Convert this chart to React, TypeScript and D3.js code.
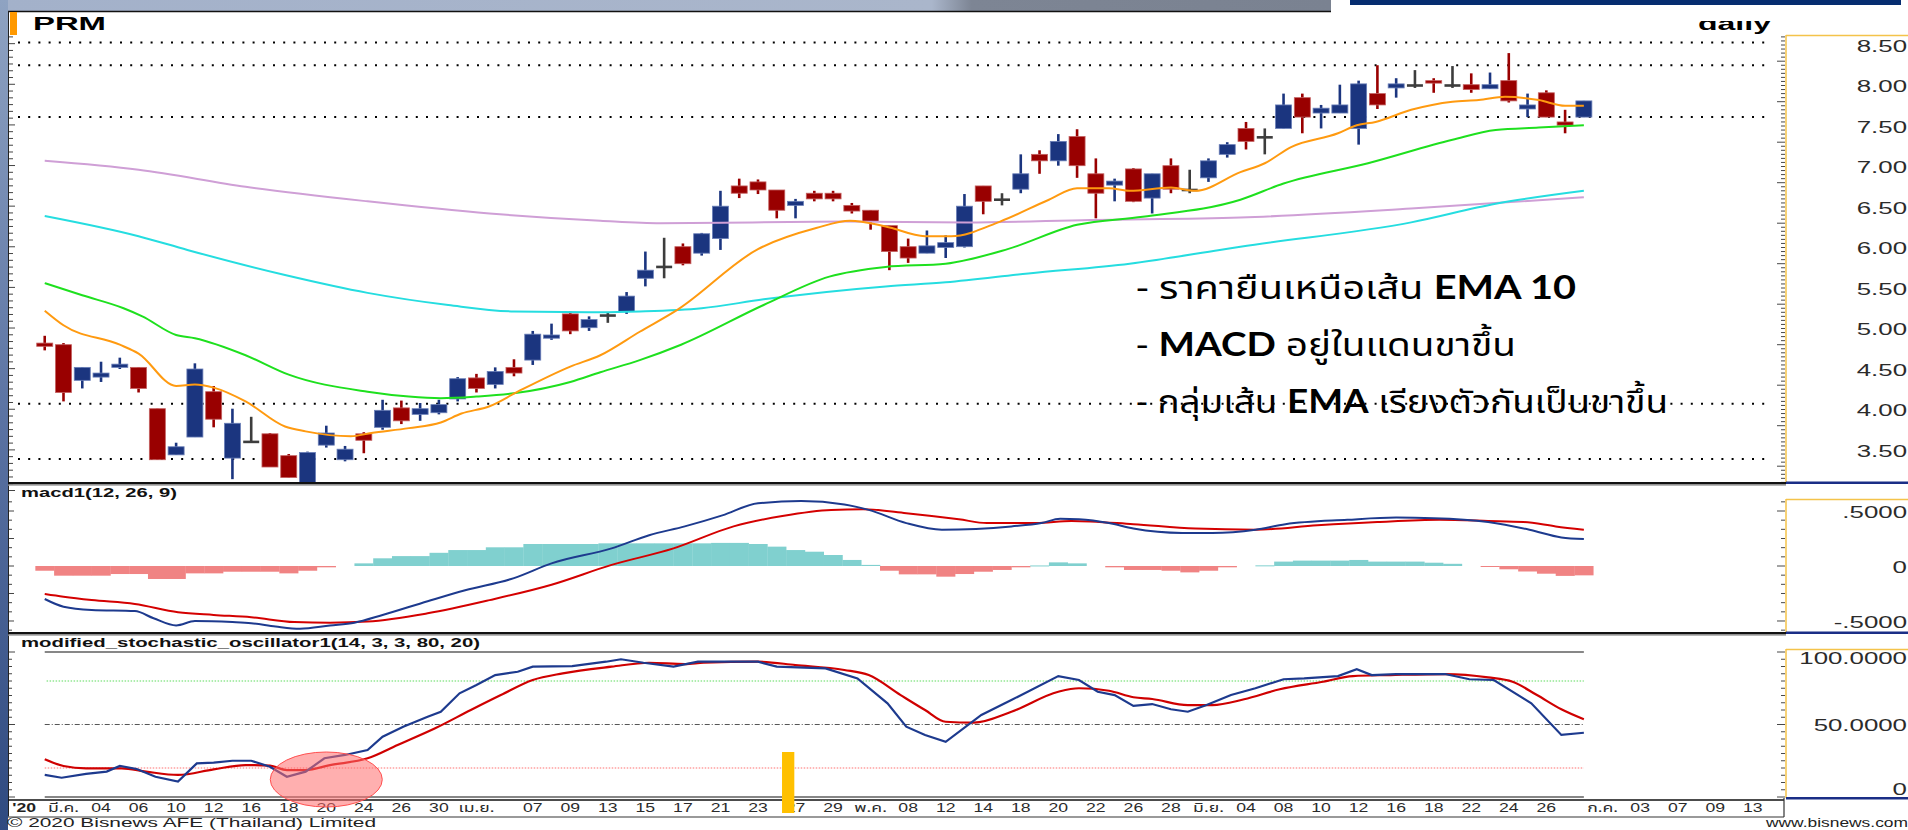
import React from "react";
import * as d3 from "d3";

// ---------- DATA ----------
const firstIdx = -1; // candles start one session before 2 Mar 2020
const opens = [4.82,4.80,4.36,4.40,4.52,4.52,4.01,3.44,3.66,4.22,
  3.40,3.60,3.70,3.43,2.95,3.56,3.38,3.70,3.78,4.02,
  3.94,3.96,4.13,4.39,4.31,4.52,4.61,4.88,5.18,5.01,
  5.16,5.21,5.62,5.76,6.01,5.93,6.11,6.76,6.81,6.71,
  6.52,6.67,6.67,6.52,6.46,6.27,6.01,5.93,6.00,6.01,
  6.76,6.59,6.72,7.15,7.07,7.37,6.91,6.77,6.97,6.61,
  7.01,6.71,6.86,7.15,7.47,7.36,7.47,7.85,7.66,7.66,
  7.47,7.90,7.97,8.00,8.06,8.00,8.01,7.96,8.06,7.71,
  7.91,7.55,7.61];
const highs = [4.91,4.82,4.52,4.59,4.64,4.52,4.01,3.59,4.57,4.29,
  4.01,3.91,3.71,3.45,3.48,3.80,3.55,3.72,4.12,4.11,
  4.08,4.12,4.40,4.44,4.52,4.62,4.97,5.06,5.21,5.15,
  5.20,5.45,5.95,6.12,6.05,6.18,6.70,6.85,6.84,6.71,
  6.60,6.70,6.70,6.55,6.46,6.27,6.11,6.21,6.15,6.66,
  6.76,6.67,7.15,7.20,7.40,7.46,7.10,6.85,6.98,6.91,
  7.10,6.96,7.10,7.30,7.55,7.47,7.90,7.90,7.76,8.01,
  8.06,8.25,8.09,8.19,8.09,8.24,8.15,8.16,8.40,7.90,
  7.94,7.70,7.81];
const lows = [4.73,4.10,4.26,4.34,4.50,4.21,3.38,3.44,3.66,3.78,
  3.14,3.59,3.29,3.16,2.90,3.53,3.36,3.46,3.75,3.82,
  3.86,3.94,4.10,4.21,4.26,4.41,4.55,4.86,4.93,4.97,
  5.07,5.18,5.52,5.62,5.78,5.90,5.97,6.61,6.66,6.36,
  6.36,6.57,6.57,6.42,6.22,5.72,5.81,5.93,5.87,6.00,
  6.41,6.52,6.67,6.91,7.01,6.86,6.36,6.57,6.56,6.42,
  6.67,6.67,6.81,7.11,7.21,7.15,7.47,7.41,7.47,7.66,
  7.27,7.71,7.85,7.97,7.91,7.97,7.91,7.96,7.79,7.61,
  7.61,7.41,7.61];
const closes = [4.78,4.21,4.52,4.45,4.56,4.26,3.38,3.54,4.50,3.88,
  3.83,3.60,3.29,3.16,3.47,3.71,3.51,3.62,3.99,3.86,
  4.01,4.06,4.38,4.26,4.47,4.45,4.93,4.92,4.97,5.11,
  5.16,5.40,5.72,5.76,5.80,6.17,6.51,6.67,6.71,6.46,
  6.57,6.60,6.60,6.45,6.32,5.95,5.87,6.02,6.06,6.51,
  6.57,6.59,6.91,7.07,7.31,7.01,6.67,6.82,6.57,6.91,
  6.72,6.71,7.07,7.27,7.31,7.36,7.76,7.61,7.72,7.76,
  8.02,7.76,8.02,8.00,8.03,8.00,7.95,8.01,7.81,7.76,
  7.61,7.51,7.81];

// EMA lines: [session index, price]
const ema10: [number, number][] = [[-1,5.22],[0,5.04],[3,4.80],[4,4.69],[6,4.29],[7,4.31],[8,4.27],[9.7,4.10],[11.8,3.79],[12.9,3.73],[15.3,3.67],[16.4,3.71],[18.4,3.77],[20.1,3.84],[21.2,3.95],[22.7,4.04],[24.2,4.22],[27,4.53],[28.6,4.67],[30.7,4.96],[32.7,5.23],[37,5.98],[40.1,6.24],[41.9,6.33],[43.8,6.26],[45.9,6.14],[47.3,6.14],[49.9,6.32],[52.5,6.59],[54,6.73],[55.7,6.73],[56.8,6.70],[59,6.74],[60.3,6.70],[62.7,6.93],[64,7.04],[65.4,7.24],[67.9,7.41],[68.9,7.51],[69.9,7.55],[71.8,7.70],[74,7.80],[75.4,7.82],[76.8,7.86],[78.6,7.82],[80,7.75],[81,7.75]];
const ema25: [number, number][] = [[-1,5.56],[1,5.41],[3.2,5.25],[4.2,5.15],[6,4.92],[7,4.88],[9.7,4.67],[12,4.43],[16.2,4.22],[18.4,4.16],[20.1,4.14],[22,4.16],[24,4.20],[27,4.34],[28.6,4.46],[30.7,4.61],[32.9,4.80],[37.3,5.29],[40.8,5.64],[43.8,5.76],[47,5.80],[50.3,5.98],[54,6.28],[57.5,6.38],[62.7,6.59],[65,6.79],[69.5,7.04],[74,7.33],[76.3,7.45],[78.6,7.48],[81,7.51]];
const ema75: [number, number][] = [[-1,6.39],[4,6.14],[6.6,5.97],[11.8,5.66],[16.2,5.44],[20.5,5.29],[24,5.21],[28.6,5.20],[30.7,5.21],[34,5.25],[37.3,5.36],[43.8,5.52],[47,5.57],[51.4,5.68],[56.8,5.80],[61.6,5.97],[62.7,6.01],[71.8,6.31],[76.3,6.54],[81,6.70]];
const ema200: [number, number][] = [[-1,7.07],[4,6.96],[9.7,6.75],[16.2,6.57],[22.7,6.42],[28.6,6.33],[31.8,6.30],[41.6,6.32],[48.1,6.31],[54.7,6.34],[62.7,6.37],[71.8,6.48],[81,6.62]];
const priceLevels = [8.53, 8.25, 7.61, 4.07, 3.39];
const priceTicks = [3.5, 4.0, 4.5, 5.0, 5.5, 6.0, 6.5, 7.0, 7.5, 8.0, 8.5];

// MACD(12,26,9)
const macdLine: [number, number][] = [[-1,-0.30],[0,-0.37],[1.5,-0.40],[3.8,-0.41],[4.8,-0.475],[6,-0.54],[7,-0.50],[9,-0.51],[10,-0.52],[11.3,-0.55],[12.6,-0.57],[14.2,-0.54],[15.5,-0.515],[17,-0.445],[19.4,-0.32],[21.4,-0.22],[24,-0.11],[26,0.024],[29.2,0.16],[31.2,0.28],[33.1,0.36],[35.1,0.46],[37,0.57],[39.3,0.59],[41.6,0.56],[42.9,0.51],[44.9,0.39],[46.8,0.33],[50.5,0.36],[52.1,0.39],[53.1,0.43],[54.1,0.425],[55.7,0.39],[57,0.34],[59.6,0.30],[61.2,0.30],[63.5,0.33],[65.1,0.38],[68.4,0.42],[71,0.44],[73,0.435],[75.9,0.40],[78.1,0.33],[79.8,0.26],[81,0.245]];
const signalLine: [number, number][] = [[-1,-0.255],[0,-0.28],[1.5,-0.31],[3.8,-0.345],[6.1,-0.42],[8,-0.445],[10,-0.466],[12.3,-0.51],[14.2,-0.515],[16.2,-0.505],[19.4,-0.43],[22.7,-0.31],[26,-0.17],[29.2,0.01],[32.5,0.16],[35.7,0.36],[38.3,0.455],[40.9,0.51],[42.6,0.515],[44.9,0.48],[47.7,0.425],[49.2,0.39],[51.8,0.39],[53.7,0.41],[57,0.38],[60.3,0.34],[63.5,0.33],[66.8,0.37],[70,0.40],[73.3,0.42],[75.9,0.41],[77.8,0.40],[79.5,0.36],[81,0.33]];
const macdHist = [-0.043,-0.088,-0.088,-0.088,-0.073,-0.073,-0.118,-0.118,-0.067,-0.067,
  -0.052,-0.052,-0.052,-0.067,-0.043,-0.012,0,0.024,0.07,0.09,
  0.09,0.12,0.145,0.145,0.17,0.17,0.20,0.20,0.20,0.20,
  0.206,0.206,0.206,0.206,0.206,0.206,0.21,0.21,0.20,0.176,
  0.145,0.13,0.10,0.055,0.01,-0.043,-0.076,-0.076,-0.097,-0.073,
  -0.052,-0.036,-0.012,0.005,0.033,0.024,0,-0.012,-0.036,-0.036,
  -0.043,-0.058,-0.043,-0.012,0,0.006,0.04,0.049,0.049,0.049,
  0.055,0.04,0.04,0.04,0.03,0.02,0,-0.006,-0.03,-0.05,
  -0.07,-0.09,-0.085];
const macdTicks = [-0.5, 0, 0.5];
const macdTickLabels = ["-.5000", "0", ".5000"];

// Modified stochastic (14,3,3,80,20)
const stochK: [number, number][] = [[-1,15.2],[-0.1,13.3],[1.2,15.9],[2.3,17.5],[3,21.4],[3.9,19.3],[4.9,14],[6.1,10.6],[7.1,23.2],[8,23.7],[9,25],[10,25],[11,20.9],[11.9,14],[12.9,17.5],[13.9,26.7],[15,29],[16.2,32.4],[17,41.6],[18.1,48.5],[19.4,55.4],[20.1,58.8],[21.1,71.5],[22,77.2],[23,84.1],[24.2,86.4],[25,89.9],[27.1,90.3],[28.9,93.3],[29.7,95],[30.9,92.6],[32.5,89.9],[33.8,93.3],[37,93.3],[38,89.9],[40.6,88.7],[42.3,81.8],[43.9,64.6],[44.9,48.5],[45.9,42.8],[47,38.1],[48.9,56.6],[50.5,66.9],[53,83.4],[54.1,80.7],[55.1,72.6],[56,70.3],[57,62.8],[58,64.1],[59,60.5],[59.9,58.8],[60.9,63.4],[62.2,70.3],[63.5,75],[65,81.2],[66.1,81.8],[67.9,83.4],[68.9,88.1],[69.7,84.1],[71,84.8],[73.6,84.8],[74.9,81.2],[76.2,80.7],[78.2,64.6],[79.8,42.8],[81,44.3]];
const stochD: [number, number][] = [[-1,26],[0,21.4],[1.2,19.8],[3.1,19.8],[4.4,17.5],[6.1,15.2],[8,19.1],[9.7,22],[11,21.6],[11.9,18.6],[12.9,18.6],[14.2,22],[16.2,26.7],[17.8,35.9],[19.8,47.4],[21.7,60],[23.3,70.3],[25,80.7],[26.6,85.3],[29.2,89.9],[31.2,92.6],[33.1,91.7],[34.1,92.6],[37,93.3],[39,91],[41.6,87.6],[42.9,84.1],[44.6,70.3],[45.9,60],[47,51.9],[48.5,51.3],[50.5,58.8],[53,72.6],[54.1,75],[55.7,73.3],[57,68.8],[58,67.6],[59.9,63.4],[61.2,63.4],[62.9,67.4],[64.8,74.3],[67.1,79.5],[68.7,83.4],[70.7,84.1],[73.6,84.8],[75.9,82.5],[77.2,79.5],[78.5,70.3],[79.8,60.5],[81,53.6]];
const stochTicks = [0, 50, 100];
const stochTickLabels = ["0", "50.0000", "100.0000"];

// date axis: [session index, label]
const dateLabels: [number, string][] = [[0,"มี.ค."],[2,"04"],[4,"06"],[6,"10"],[8,"12"],[10,"16"],[12,"18"],[14,"20"],[16,"24"],[18,"26"],[20,"30"],[22,"เม.ย."],[25,"07"],[27,"09"],[29,"13"],[31,"15"],[33,"17"],[35,"21"],[37,"23"],[39,"27"],[41,"29"],[43,"พ.ค."],[45,"08"],[47,"12"],[49,"14"],[51,"18"],[53,"20"],[55,"22"],[57,"26"],[59,"28"],[61,"มิ.ย."],[63,"04"],[65,"08"],[67,"10"],[69,"12"],[71,"16"],[73,"18"],[75,"22"],[77,"24"],[79,"26"],[82,"ก.ค."],[84,"03"],[86,"07"],[88,"09"],[90,"13"]];
const yearLabel: [number, string] = [-2.1, "'20"];
const circledSession = 14.0;
const markedSession = 38.6;

const notes = [
  { pre: "- ราคายืนเหนือเส้น ", bold: "EMA 10", post: "" },
  { pre: "- ", bold: "MACD", post: " อยู่ในแดนขาขึ้น" },
  { pre: "- กลุ่มเส้น ", bold: "EMA", post: " เรียงตัวกันเป็นขาขึ้น" },
];

// ---------- LAYOUT ----------
const W = 1908, H = 830;
const plotRight = 1786;
const x = d3.scaleLinear().domain([0, 90]).range([63.5, 1752.8]);
const yP = d3.scaleLinear().domain([3.5, 8.5]).range([450, 45]);
const yM = d3.scaleLinear().domain([-0.5, 0.5]).range([621, 511]);
const yS = d3.scaleLinear().domain([0, 100]).range([797, 652]);
const step = x(1) - x(0);

const FONT = "'Liberation Sans', Arial, 'DejaVu Sans', sans-serif";
const THAI = "'Noto Sans Thai', 'Leelawadee UI', Tahoma, 'Lato', 'DejaVu Sans', sans-serif";

function lineOf(pts: [number, number][], y: d3.ScaleLinear<number, number>, smooth = true) {
  return d3.line<[number, number]>().x((d) => x(d[0])).y((d) => y(d[1]))
    .curve(smooth ? d3.curveMonotoneX : d3.curveLinear)(pts) || "";
}

function minorTicks(lo: number, hi: number, n: number) {
  const out: number[] = [];
  for (let i = 0; i <= n; i++) out.push(lo + ((hi - lo) * i) / n);
  return out;
}

export default function App() {
  const candles = opens.map((o, i) => ({
    idx: firstIdx + i, o, h: highs[i], l: lows[i], c: closes[i],
  }));
  const pTicksMinor = minorTicks(3.1, 8.6, 110);
  const pTicksLeft = minorTicks(3.0, 8.6, 67);
  const mTicksMinor = minorTicks(-0.5833, 0.5833, 14);
  const sTicksMinor = minorTicks(0, 100, 20);
  const labelScale = 1.52;

  return (
    <svg width={W} height={H} style={{ position: "absolute", left: 0, top: 0, background: "#fff" }}
      fontFamily={FONT}>
      <defs>
        <linearGradient id="topg" x1="0" x2="1" y1="0" y2="0">
          <stop offset="0" stopColor="#a3b1ca" />
          <stop offset="0.70" stopColor="#aab6cb" />
          <stop offset="0.73" stopColor="#7d8594" />
          <stop offset="1" stopColor="#7a8291" />
        </linearGradient>
        <linearGradient id="leftg" x1="0" x2="0" y1="0" y2="1">
          <stop offset="0" stopColor="#8fa3c2" />
          <stop offset="0.5" stopColor="#5b73a3" />
          <stop offset="1" stopColor="#2f4a80" />
        </linearGradient>
        <clipPath id="priceClip"><rect x={9} y={12} width={plotRight - 9} height={471} /></clipPath>
        <clipPath id="dailyClip"><rect x={1690} y={21} width={100} height={14} /></clipPath>
      </defs>

      {/* surroundings */}
      <rect x={0} y={0} width={W} height={H} fill="#fff" />
      <rect x={0} y={0} width={1331} height={11} fill="url(#topg)" />
      <rect x={0} y={0} width={8} height={H} fill="url(#leftg)" />
      <rect x={1350} y={0} width={551} height={5} fill="#062d70" />
      <line x1={8} x2={1331} y1={11.5} y2={11.5} stroke="#111" strokeWidth={1.5} />
      <line x1={8.5} x2={8.5} y1={11} y2={817} stroke="#222" strokeWidth={1} />

      {/* title */}
      <rect x={10} y={12} width={7} height={23} fill="#ff9900" />
      <text x={33} y={30} fontSize={19} fontWeight="bold" fill="#000" textLength={73} lengthAdjust="spacingAndGlyphs">PRM</text>
      <g clipPath="url(#dailyClip)">
        <text x={1698} y={30} fontSize={19} fontWeight="bold" fill="#000" textLength={73} lengthAdjust="spacingAndGlyphs">daily</text>
      </g>

      {/* ---------- PRICE PANEL ---------- */}
      <g>
        {pTicksLeft.map((v, i) => (
          <line key={"lt" + i} x1={9} x2={i % 6 === 0 ? 15 : 13} y1={yP(v)} y2={yP(v)} stroke="#444" strokeWidth={1} />
        ))}
        {priceLevels.map((v, i) => (
          <line key={"lv" + i} x1={18} x2={1770} y1={yP(v)} y2={yP(v)} stroke="#000" strokeWidth={2} strokeDasharray="2 8.2" />
        ))}
      </g>
      <g clipPath="url(#priceClip)">
        {candles.map((d) => {
          const cx = x(d.idx);
          const doji = d.o === d.c;
          const up = d.c > d.o;
          const col = doji ? "#3d3d3d" : up ? "#1b357f" : "#990000";
          const edge = doji ? "#3d3d3d" : up ? "#6a7fb8" : "#c46060";
          const top = yP(Math.max(d.o, d.c));
          const bot = yP(Math.min(d.o, d.c));
          return (
            <g key={"c" + d.idx}>
              <line x1={cx} x2={cx} y1={yP(d.h)} y2={yP(d.l)} stroke={col} strokeWidth={2.6} />
              {doji ? (
                <line x1={cx - 8} x2={cx + 8} y1={top} y2={top} stroke={col} strokeWidth={2.6} />
              ) : (
                <rect x={cx - 8} y={top} width={16} height={Math.max(2.5, bot - top)} fill={col} stroke={edge} strokeWidth={0.8} />
              )}
            </g>
          );
        })}
        <path d={lineOf(ema200, yP)} fill="none" stroke="#cf9fd6" strokeWidth={2} />
        <path d={lineOf(ema75, yP)} fill="none" stroke="#25dde0" strokeWidth={2} />
        <path d={lineOf(ema25, yP)} fill="none" stroke="#1ee01e" strokeWidth={2} />
        <path d={lineOf(ema10, yP)} fill="none" stroke="#ff9a10" strokeWidth={2} />
      </g>

      {/* annotation */}
      {notes.map((n, i) => (
        <text key={"n" + i} x={1136} y={299 + i * 57} fontSize={32} fill="#000" fontFamily={THAI}
          textLength={[440, 380, 532][i]} lengthAdjust="spacingAndGlyphs">
          <tspan>{n.pre}</tspan>
          <tspan fontWeight="bold" fontFamily="Lato, 'Open Sans', sans-serif">{n.bold}</tspan>
          <tspan>{n.post}</tspan>
        </text>
      ))}

      {/* price axis box */}
      <rect x={plotRight} y={35} width={W - plotRight} height={448} fill="#fff" />
      <line x1={plotRight} x2={plotRight} y1={35} y2={483} stroke="#f4c34a" strokeWidth={1.5} />
      <line x1={plotRight} x2={W} y1={35.5} y2={35.5} stroke="#f4c34a" strokeWidth={1.5} />
      {pTicksMinor.map((v, i) => (
        <line key={"pt" + i} x1={i % 10 === 4 ? 1777 : 1781} x2={1785} y1={yP(v)} y2={yP(v)} stroke="#333" strokeWidth={0.9} />
      ))}
      {priceTicks.map((v) => (
        <text key={"pl" + v} transform={`translate(1907,${yP(v) + 6.5}) scale(${labelScale},1)`} textAnchor="end" fontSize={17} fill="#2b2b2b">{v.toFixed(2)}</text>
      ))}
      {/* separator */}
      <rect x={8} y={482} width={plotRight - 8} height={2.5} fill="#111" />
      <rect x={8} y={484.5} width={plotRight - 8} height={1.2} fill="#999" />
      <rect x={plotRight} y={481.5} width={W - plotRight} height={2.5} fill="#1a2e86" />

      {/* ---------- MACD PANEL ---------- */}
      <text x={21} y={497} fontSize={12} fontWeight="bold" fill="#111" textLength={156} lengthAdjust="spacingAndGlyphs">macd1(12, 26, 9)</text>
      {mTicksMinor.map((v, i) => (
        <line key={"mlt" + i} x1={9} x2={i % 3 === 1 ? 14 : 12} y1={yM(v)} y2={yM(v)} stroke="#444" strokeWidth={1} />
      ))}
      {macdHist.map((v, i) => {
        if (v === 0) return null;
        const cx = x(firstIdx + i);
        const y0 = yM(Math.max(0, v));
        const y1 = yM(Math.min(0, v));
        return (
          <rect key={"h" + i} x={cx - step / 2} y={y0} width={step + 0.3} height={Math.max(1, y1 - y0)}
            fill={v > 0 ? "#80d0cf" : "#f08383"} />
        );
      })}
      <path d={lineOf(signalLine, yM)} fill="none" stroke="#d40000" strokeWidth={2} />
      <path d={lineOf(macdLine, yM)} fill="none" stroke="#1d3a8e" strokeWidth={2} />

      <rect x={plotRight} y={499} width={W - plotRight} height={133} fill="#fff" />
      <line x1={plotRight} x2={plotRight} y1={499} y2={632} stroke="#f4c34a" strokeWidth={1.5} />
      <line x1={plotRight} x2={W} y1={499.5} y2={499.5} stroke="#f4c34a" strokeWidth={1.5} />
      {mTicksMinor.map((v, i) => (
        <line key={"mt" + i} x1={i % 6 === 1 ? 1777 : 1781} x2={1785} y1={yM(v)} y2={yM(v)} stroke="#333" strokeWidth={0.9} />
      ))}
      {macdTicks.map((v, i) => (
        <text key={"ml" + v} transform={`translate(1907,${yM(v) + 6.5}) scale(${labelScale},1)`} textAnchor="end" fontSize={17} fill="#2b2b2b">{macdTickLabels[i]}</text>
      ))}
      <rect x={8} y={632} width={plotRight - 8} height={2.5} fill="#111" />
      <rect x={8} y={634.5} width={plotRight - 8} height={1.2} fill="#999" />
      <rect x={plotRight} y={631.5} width={W - plotRight} height={2.5} fill="#1a2e86" />

      {/* ---------- STOCHASTIC PANEL ---------- */}
      <text x={21} y={647} fontSize={12} fontWeight="bold" fill="#111" textLength={459} lengthAdjust="spacingAndGlyphs">modified_stochastic_oscillator1(14, 3, 3, 80, 20)</text>
      {sTicksMinor.map((v, i) => (
        <line key={"slt" + i} x1={9} x2={i % 10 === 0 ? 15 : 12} y1={yS(v)} y2={yS(v)} stroke="#444" strokeWidth={1} />
      ))}
      <line x1={x(-1)} x2={x(81)} y1={yS(100)} y2={yS(100)} stroke="#111" strokeWidth={1.2} />
      <line x1={x(-1)} x2={x(81)} y1={yS(0)} y2={yS(0)} stroke="#111" strokeWidth={1.2} />
      <line x1={x(-0.9)} x2={x(81)} y1={yS(80)} y2={yS(80)} stroke="#5fdc5f" strokeWidth={1.2} strokeDasharray="1.5 1.5" />
      <line x1={x(-1)} x2={x(81)} y1={yS(50)} y2={yS(50)} stroke="#555" strokeWidth={1} strokeDasharray="5 2 1 2" />
      <line x1={x(-1)} x2={x(81)} y1={yS(20)} y2={yS(20)} stroke="#ff7070" strokeWidth={1.2} strokeDasharray="1.5 1.5" />
      <path d={lineOf(stochD, yS)} fill="none" stroke="#cf0000" strokeWidth={2.2} />
      <path d={lineOf(stochK, yS, false)} fill="none" stroke="#1d3a8e" strokeWidth={2.2} />

      <rect x={plotRight} y={649} width={W - plotRight} height={149} fill="#fff" />
      <line x1={plotRight} x2={plotRight} y1={649} y2={798} stroke="#f4c34a" strokeWidth={1.5} />
      <line x1={plotRight} x2={W} y1={649.5} y2={649.5} stroke="#f4c34a" strokeWidth={1.5} />
      {sTicksMinor.map((v, i) => (
        <line key={"st" + i} x1={i % 10 === 0 ? 1777 : 1781} x2={1785} y1={yS(v)} y2={yS(v)} stroke="#333" strokeWidth={0.9} />
      ))}
      {stochTicks.map((v, i) => {
        const yy = v === 100 ? yS(v) + 12 : v === 0 ? yS(v) - 2 : yS(v) + 6;
        return (
          <text key={"sl" + v} transform={`translate(1907,${yy}) scale(${labelScale},1)`} textAnchor="end" fontSize={17} fill="#2b2b2b">{stochTickLabels[i]}</text>
        );
      })}
      <rect x={plotRight} y={797} width={W - plotRight} height={2.5} fill="#1a2e86" />

      {/* ---------- DATE AXIS ---------- */}
      <line x1={8} x2={plotRight - 2} y1={800} y2={800} stroke="#111" strokeWidth={1.5} />
      <line x1={8} x2={plotRight - 2} y1={817} y2={817} stroke="#777" strokeWidth={1.5} />
      <line x1={plotRight - 2} x2={plotRight - 2} y1={798} y2={817} stroke="#333" strokeWidth={1.2} />
      <text transform={`translate(${x(yearLabel[0])},812) scale(1.47,1)`} textAnchor="middle" fontSize={12} fontWeight="bold" fill="#222">{yearLabel[1]}</text>
      {dateLabels.map(([i, s]) => (
        <text key={"d" + i} transform={`translate(${x(i)},812) scale(1.47,1)`} textAnchor="middle" fontSize={12}
          fill="#2b2b2b" fontFamily={/[0-9]/.test(s) ? FONT : THAI}>{s}</text>
      ))}

      {/* highlights */}
      <ellipse cx={x(circledSession)} cy={779.5} rx={56} ry={27.5} fill="rgba(255,110,110,0.55)" stroke="#ff5050" strokeWidth={1} />
      <rect x={x(markedSession) - 6} y={752} width={12.3} height={61} fill="#ffc000" />

      {/* footer */}
      <text x={7} y={827} fontSize={13} fill="#222" textLength={369} lengthAdjust="spacingAndGlyphs">© 2020 Bisnews AFE (Thailand) Limited</text>
      <text transform={`translate(1908,827) scale(1.45,1)`} textAnchor="end" fontSize={12} fill="#222">www.bisnews.com</text>
    </svg>
  );
}
